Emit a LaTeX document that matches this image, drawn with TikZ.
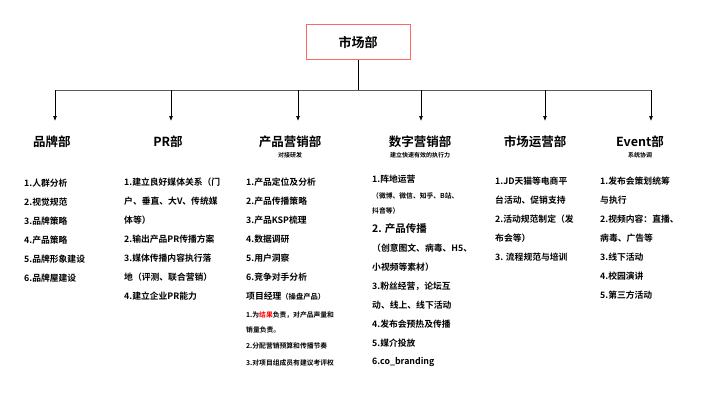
\documentclass[tikz,border=0pt]{standalone}
\usetikzlibrary{arrows.meta}
\usepackage{fontspec}
\setmainfont{Noto Sans CJK SC}[BoldFont={Noto Sans CJK SC Bold}]
\begin{document}
\begin{tikzpicture}[x=1pt,y=-1pt,font=\bfseries,
  item/.style={anchor=west,inner sep=0pt,font=\bfseries\fontsize{8.8}{9}\selectfont},
  small/.style={anchor=west,inner sep=0pt,font=\bfseries\fontsize{6.8}{7}\selectfont},
  head/.style={inner sep=0pt,font=\bfseries\fontsize{12.5}{13}\selectfont},
  sub/.style={inner sep=0pt,font=\bfseries\fontsize{6}{6}\selectfont},
  arr/.style={-{Latex[length=5pt,width=4pt]},line width=0.7pt}]
\useasboundingbox (0,0) rectangle (716,400);
\node[draw=red!60,line width=0.8pt,fill=white,minimum width=104pt,minimum height=35pt,font=\bfseries\fontsize{13}{14}\selectfont] (top) at (358,42) {市场部};
\coordinate (j) at (358,90);
\draw[line width=0.7pt] (top.south) -- (j);
\draw[line width=1pt,gray!70!black] (55,90) -- (651,90);
\foreach \n/\x in {a/55,b/171,c/298,d/421,e/545,f/651}{
  \coordinate (s\n) at (\x,90); \coordinate (t\n) at (\x,121);
  \draw[arr] (s\n) -- (t\n);}
\node[head] (h1) at (52,142) {品牌部};
\node[head] (h2) at (168,142) {PR部};
\node[head] (h3) at (290,142) {产品营销部};
\node[sub] (s3) at (290,155) {对接研发};
\node[head] (h4) at (420,142) {数字营销部};
\node[sub] (s4) at (420,155) {建立快速有效的执行力};
\node[head] (h5) at (535,142) {市场运营部};
\node[head] (h6) at (640,142) {Event部};
\node[sub] (s6) at (640,155) {系统协调};
% col1
\foreach \t [count=\i] in {1.人群分析,2.视觉规范,3.品牌策略,4.产品策略,5.品牌形象建设,6.品牌屋建设}
  \node[item] (a\i) at (24,164+19*\i) {\t};
% col2
\foreach \t [count=\i] in {1.建立良好媒体关系（门,户、垂直、大V、传统媒,体等）,2.输出产品PR传播方案,3.媒体传播内容执行落,地（评测、联合营销）,4.建立企业PR能力}
  \node[item] (b\i) at (124,163+19*\i) {\t};
% col3
\foreach \t [count=\i] in {1.产品定位及分析,2.产品传播策略,3.产品KSP梳理,4.数据调研,5.用户洞察,6.竞争对手分析,项目经理{\fontsize{7.3}{8}\selectfont（操盘产品）}}
  \node[item] (c\i) at (246,163+19*\i) {\t};
\node[small] (c8) at (246,315) {1.为\textcolor{red}{结果}负责，对产品声量和};
\node[small] (c9) at (246,330) {销量负责。};
\node[small] (c10) at (246,346) {2.分配营销预算和传播节奏};
\node[small] (c11) at (246,363) {3.对项目组成员有建议考评权};
% col4
\node[item] (d1) at (372,179) {1.阵地运营};
\node[small] (d2) at (372,196) {（微博、微信、知乎、B站、};
\node[small] (d3) at (372,211) {抖音等）};
\node[item,font=\bfseries\fontsize{10.5}{11}\selectfont] (d4) at (372,229) {2. 产品传播};
\foreach \t [count=\i from 5] in {（创意图文、病毒、H5、,小视频等素材）,3.粉丝经营，论坛互,动、线上、线下活动,4.发布会预热及传播,5.媒介投放,6.co\_branding}
  \node[item] (d\i) at (372,153+19*\i) {\t};
% col5
\foreach \t [count=\i] in {1.JD天猫等电商平,台活动、促销支持,2.活动规范制定（发,布会等）,3. 流程规范与培训}
  \node[item] (e\i) at (495,162+19*\i) {\t};
% col6
\foreach \t [count=\i] in {1.发布会策划统筹,与执行,2.视频内容：直播、,病毒、广告等,3.线下活动,4.校园演讲,5.第三方活动}
  \node[item] (f\i) at (600,162+19*\i) {\t};
\end{tikzpicture}
\end{document}
